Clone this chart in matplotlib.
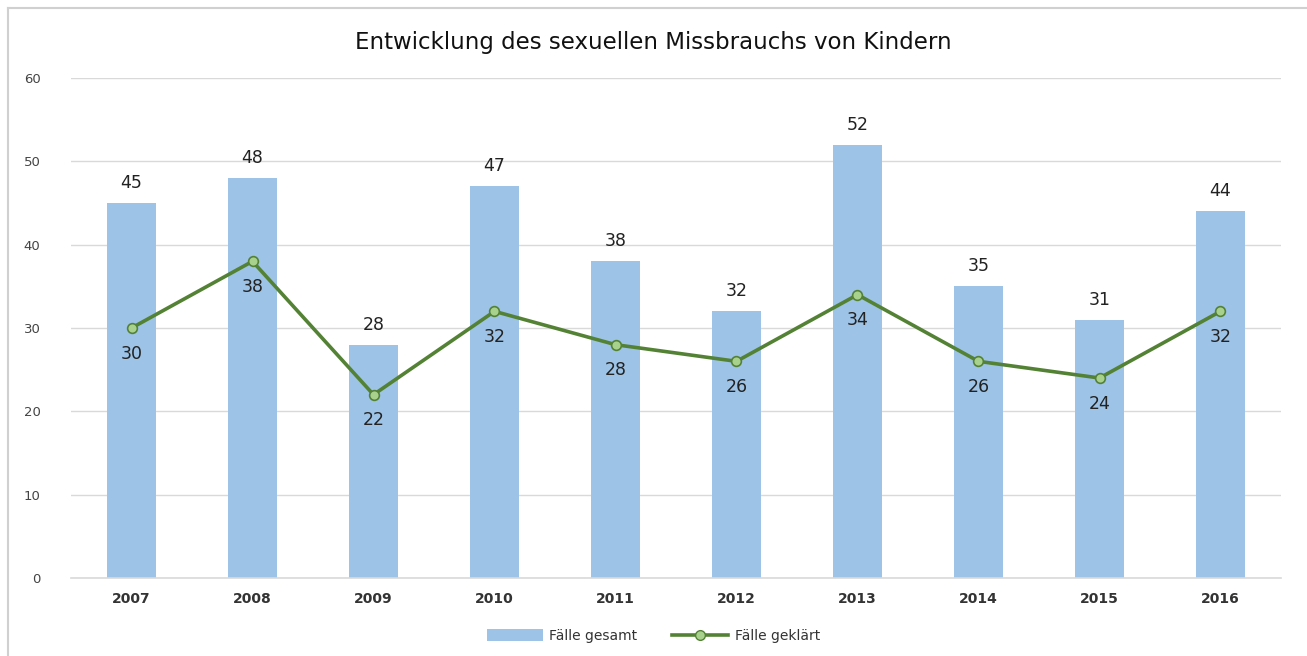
import matplotlib
matplotlib.use("Agg")
import matplotlib.pyplot as plt
from matplotlib.lines import Line2D
from matplotlib.patches import Patch

years = ["2007", "2008", "2009", "2010", "2011", "2012", "2013", "2014", "2015", "2016"]
faelle_gesamt = [45, 48, 28, 47, 38, 32, 52, 35, 31, 44]
faelle_geklaert = [30, 38, 22, 32, 28, 26, 34, 26, 24, 32]
title = "Entwicklung des sexuellen Missbrauchs von Kindern"
legend_labels = ["Fälle gesamt", "Fälle geklärt"]

W, H = 1307, 656
fig = plt.figure(figsize=(W / 100, H / 100), dpi=100)
ax = fig.add_axes([71 / W, 1 - 578 / H, (1281 - 71) / W, 500 / H])

bar_color = "#9DC3E6"
line_color = "#548235"
marker_face = "#A9D18E"

x = list(range(len(years)))
ax.bar(x, faelle_gesamt, width=0.4, color=bar_color, zorder=2)
ax.plot(x, faelle_geklaert, color=line_color, linewidth=2.6, marker="o",
        markersize=7, markerfacecolor=marker_face, markeredgecolor=line_color,
        markeredgewidth=1.2, zorder=3)

for xi, v in zip(x, faelle_gesamt):
    ax.annotate(f"{v}", (xi, v), xytext=(0, 8), textcoords="offset points",
                ha="center", va="bottom", fontsize=12.5, color="#222222")
for xi, v in zip(x, faelle_geklaert):
    ax.annotate(f"{v}", (xi, v), xytext=(0, -12), textcoords="offset points",
                ha="center", va="top", fontsize=12.5, color="#222222")

ax.set_xlim(-0.5, len(years) - 0.5)
ax.set_ylim(0, 60)
ax.set_yticks(range(0, 61, 10))
ax.set_xticks(x)
ax.set_xticklabels(years, fontsize=10, color="#333333", fontweight="semibold")
ax.tick_params(axis="y", labelsize=9.5, colors="#444444", length=0, pad=22)
ax.tick_params(axis="x", length=0, pad=10)
ax.yaxis.grid(True, color="#D9D9D9", linewidth=1.0, zorder=0)
ax.set_axisbelow(True)
for s in ["top", "right", "left"]:
    ax.spines[s].set_visible(False)
ax.spines["bottom"].set_color("#D9D9D9")
ax.spines["bottom"].set_linewidth(1.2)

fig.text(0.5, 1 - 42 / H, title, ha="center", va="center", fontsize=16.5, color="#111111")

handles = [Patch(facecolor=bar_color, edgecolor="none"),
           Line2D([0], [0], color=line_color, linewidth=2.6, marker="o", markersize=7,
                  markerfacecolor=marker_face, markeredgecolor=line_color)]
fig.legend(handles, legend_labels, loc="center", bbox_to_anchor=(0.5, 1 - 636 / H),
           ncol=2, frameon=False, fontsize=10, handlelength=4, handleheight=0.9,
           columnspacing=2.5, handletextpad=0.5, labelcolor="#333333")

# outer chart border
fig.add_artist(Line2D([8 / W, 8 / W], [0, 1 - 8 / H], transform=fig.transFigure,
                      color="#D0D0D0", linewidth=1.5))
fig.add_artist(Line2D([8 / W, 1], [1 - 8 / H, 1 - 8 / H], transform=fig.transFigure,
                      color="#D0D0D0", linewidth=1.5))

fig.savefig("out.png", dpi=100)
